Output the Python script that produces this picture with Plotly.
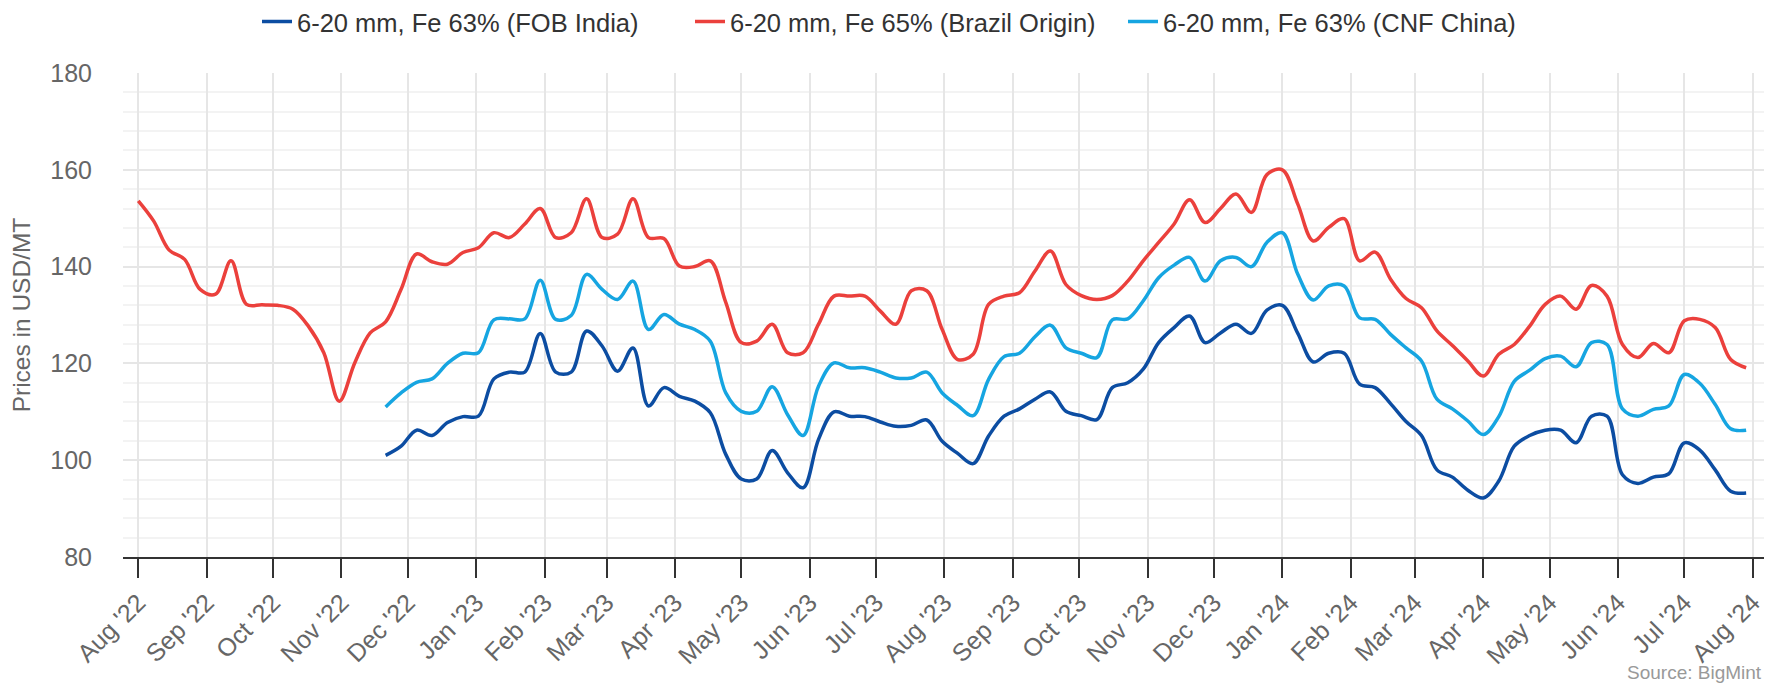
import plotly.graph_objects as go
import pandas as pd

# Weekly observation dates (categories)
dates = pd.date_range("2022-08-01", periods=105, freq="7D")

# 6-20 mm, Fe 65% (Brazil Origin)
brazil = [153.6, 149.4, 143.4, 141.5, 135.3, 134.3, 141.2, 132.2, 132.1, 132.0,
          131.2, 127.7, 122.2, 112.2, 120.1, 126.3, 128.6, 135.3, 142.6, 141.0,
          140.5, 142.9, 143.9, 147.0, 146.0, 148.8, 152.0, 146.0, 147.0, 154.0,
          146.0, 146.7, 154.0, 146.0, 145.8, 140.1, 140.0, 141.2, 132.6, 124.3,
          124.6, 128.1, 122.2, 122.2, 128.1, 133.9, 133.9, 133.9, 130.8, 128.1,
          135.0, 135.0, 127.0, 120.8, 121.9, 132.2, 133.9, 134.6, 139.1, 143.2,
          136.3, 134.0, 133.2, 134.0, 137.0, 141.2, 145.0, 148.8, 153.8, 149.1,
          152.0, 155.0, 151.2, 159.0, 160.0, 152.9, 145.3, 148.1, 149.9, 141.2,
          143.0, 137.4, 133.4, 131.5, 126.7, 123.7, 120.5, 117.4, 121.9, 123.9,
          127.7, 132.2, 133.9, 131.2, 136.1, 133.9, 123.9, 121.2, 124.1, 122.2,
          128.8, 129.1, 127.4, 120.8, 119.1]

# 6-20 mm, Fe 63% (FOB India) - starts late Nov 2022
india = [None] * 16 + [
          101.0, 102.9, 106.2, 105.1,
          107.8, 109.0, 109.1, 116.8, 118.2, 118.2, 126.2, 118.2, 118.2, 126.7,
          123.6, 118.4, 123.2, 111.2, 115.0, 113.2, 112.2, 109.8, 101.2, 96.1,
          96.1, 102.0, 97.4, 94.3, 104.3, 110.0, 109.1, 109.0, 107.9, 107.0,
          107.2, 108.3, 103.9, 101.4, 99.3, 105.0, 109.1, 110.6, 112.6, 114.1,
          110.1, 109.2, 108.4, 115.0, 116.0, 118.8, 124.3, 127.4, 129.8, 124.3,
          126.3, 128.1, 126.2, 131.0, 132.0, 126.2, 120.3, 122.1, 122.1, 115.7,
          115.0, 111.7, 108.0, 105.1, 98.0, 96.5, 93.8, 92.2, 95.7, 102.9,
          105.1, 106.2, 106.2, 103.6, 109.1, 109.1, 97.0, 95.2, 96.5, 97.2,
          103.6, 102.1, 98.0, 93.6, 93.2]

# 6-20 mm, Fe 63% (CNF China) - starts late Nov 2022
china = [None] * 16 + [
          111.0, 113.9, 116.1, 116.8,
          120.0, 122.1, 122.2, 129.0, 129.2, 129.2, 137.2, 129.1, 129.9, 138.4,
          135.3, 133.2, 137.0, 127.0, 130.1, 128.1, 127.0, 124.6, 113.9, 110.1,
          110.1, 115.2, 109.4, 105.1, 115.3, 120.1, 119.1, 119.1, 118.2, 117.0,
          117.0, 118.2, 113.9, 111.3, 109.2, 116.7, 121.4, 122.1, 125.5, 127.9,
          123.2, 122.1, 121.2, 129.0, 129.2, 132.9, 137.7, 140.3, 141.9, 137.0,
          141.2, 141.9, 140.0, 145.0, 147.0, 138.4, 133.1, 136.0, 136.0, 129.4,
          129.1, 126.0, 123.2, 120.5, 112.6, 110.6, 108.1, 105.3, 109.0, 116.3,
          118.6, 121.0, 121.5, 119.3, 124.3, 123.9, 110.6, 109.1, 110.5, 111.2,
          117.7, 115.9, 111.5, 106.5, 106.2]

series = [
    ("6-20 mm, Fe 63% (FOB India)", india, "#0c4da2"),
    ("6-20 mm, Fe 65% (Brazil Origin)", brazil, "#eb403c"),
    ("6-20 mm, Fe 63% (CNF China)", china, "#16a5e1"),
]

FONT = "Liberation Sans, Arial, Helvetica, sans-serif"

# The page body adds an 8px offset, so the figure is 8px smaller and every
# position below is expressed relative to that offset.
W, H = 1773, 676

fig = go.Figure()
for name, vals, color in series:
    fig.add_trace(go.Scatter(
        x=dates, y=vals, name=name, mode="lines",
        line=dict(color=color, width=3.5, shape="spline", smoothing=1.0),
        connectgaps=False, hoverinfo="skip",
    ))

fig.update_layout(
    template="none",
    width=W, height=H,
    margin=dict(l=115, r=17, t=65, b=127, autoexpand=False),
    plot_bgcolor="white", paper_bgcolor="white",
    font=dict(family=FONT),
    showlegend=True,
    legend=dict(
        orientation="h", xref="container", yref="container",
        x=249 / W, xanchor="left", y=1 - 14 / H, yanchor="middle",
        font=dict(size=25.5, color="#333333", family=FONT),
        itemwidth=30, entrywidth=388, entrywidthmode="pixels",
        bgcolor="rgba(0,0,0,0)", borderwidth=0,
    ),
    xaxis=dict(
        type="date", automargin=False,
        range=["2022-07-25 02:00", "2024-08-06 02:00"],
        tickmode="linear", tick0="2022-08-01", dtick="M1",
        tickformat="%b '%y", tickangle=-45,
        ticks="outside", ticklen=19, tickwidth=2, tickcolor="#333333",
        showline=True, linecolor="#333333", linewidth=2,
        showgrid=True, gridcolor="#e6e6e6", gridwidth=2,
        zeroline=False,
        tickfont=dict(size=25, color="#666666", family=FONT),
    ),
    yaxis=dict(
        automargin=False,
        range=[80, 180], tick0=80, dtick=20, tickmode="linear",
        showgrid=True, gridcolor="#e6e6e6", gridwidth=2,
        minor=dict(dtick=4, showgrid=True, gridcolor="#f3f3f3", gridwidth=2),
        zeroline=False, showline=False, ticks="",
        ticklabelstandoff=30,
        tickfont=dict(size=25, color="#666666", family=FONT),
        title=dict(text="Prices in USD/MT", standoff=12,
                   font=dict(size=24.5, color="#666666", family=FONT)),
    ),
    annotations=[dict(
        text="Source: BigMint", xref="paper", yref="paper",
        x=1.0, xanchor="right", y=-(664 - 549) / 484, yanchor="middle",
        showarrow=False, font=dict(size=19, color="#999999", family=FONT),
    )],
)

fig.write_html("out.html")
